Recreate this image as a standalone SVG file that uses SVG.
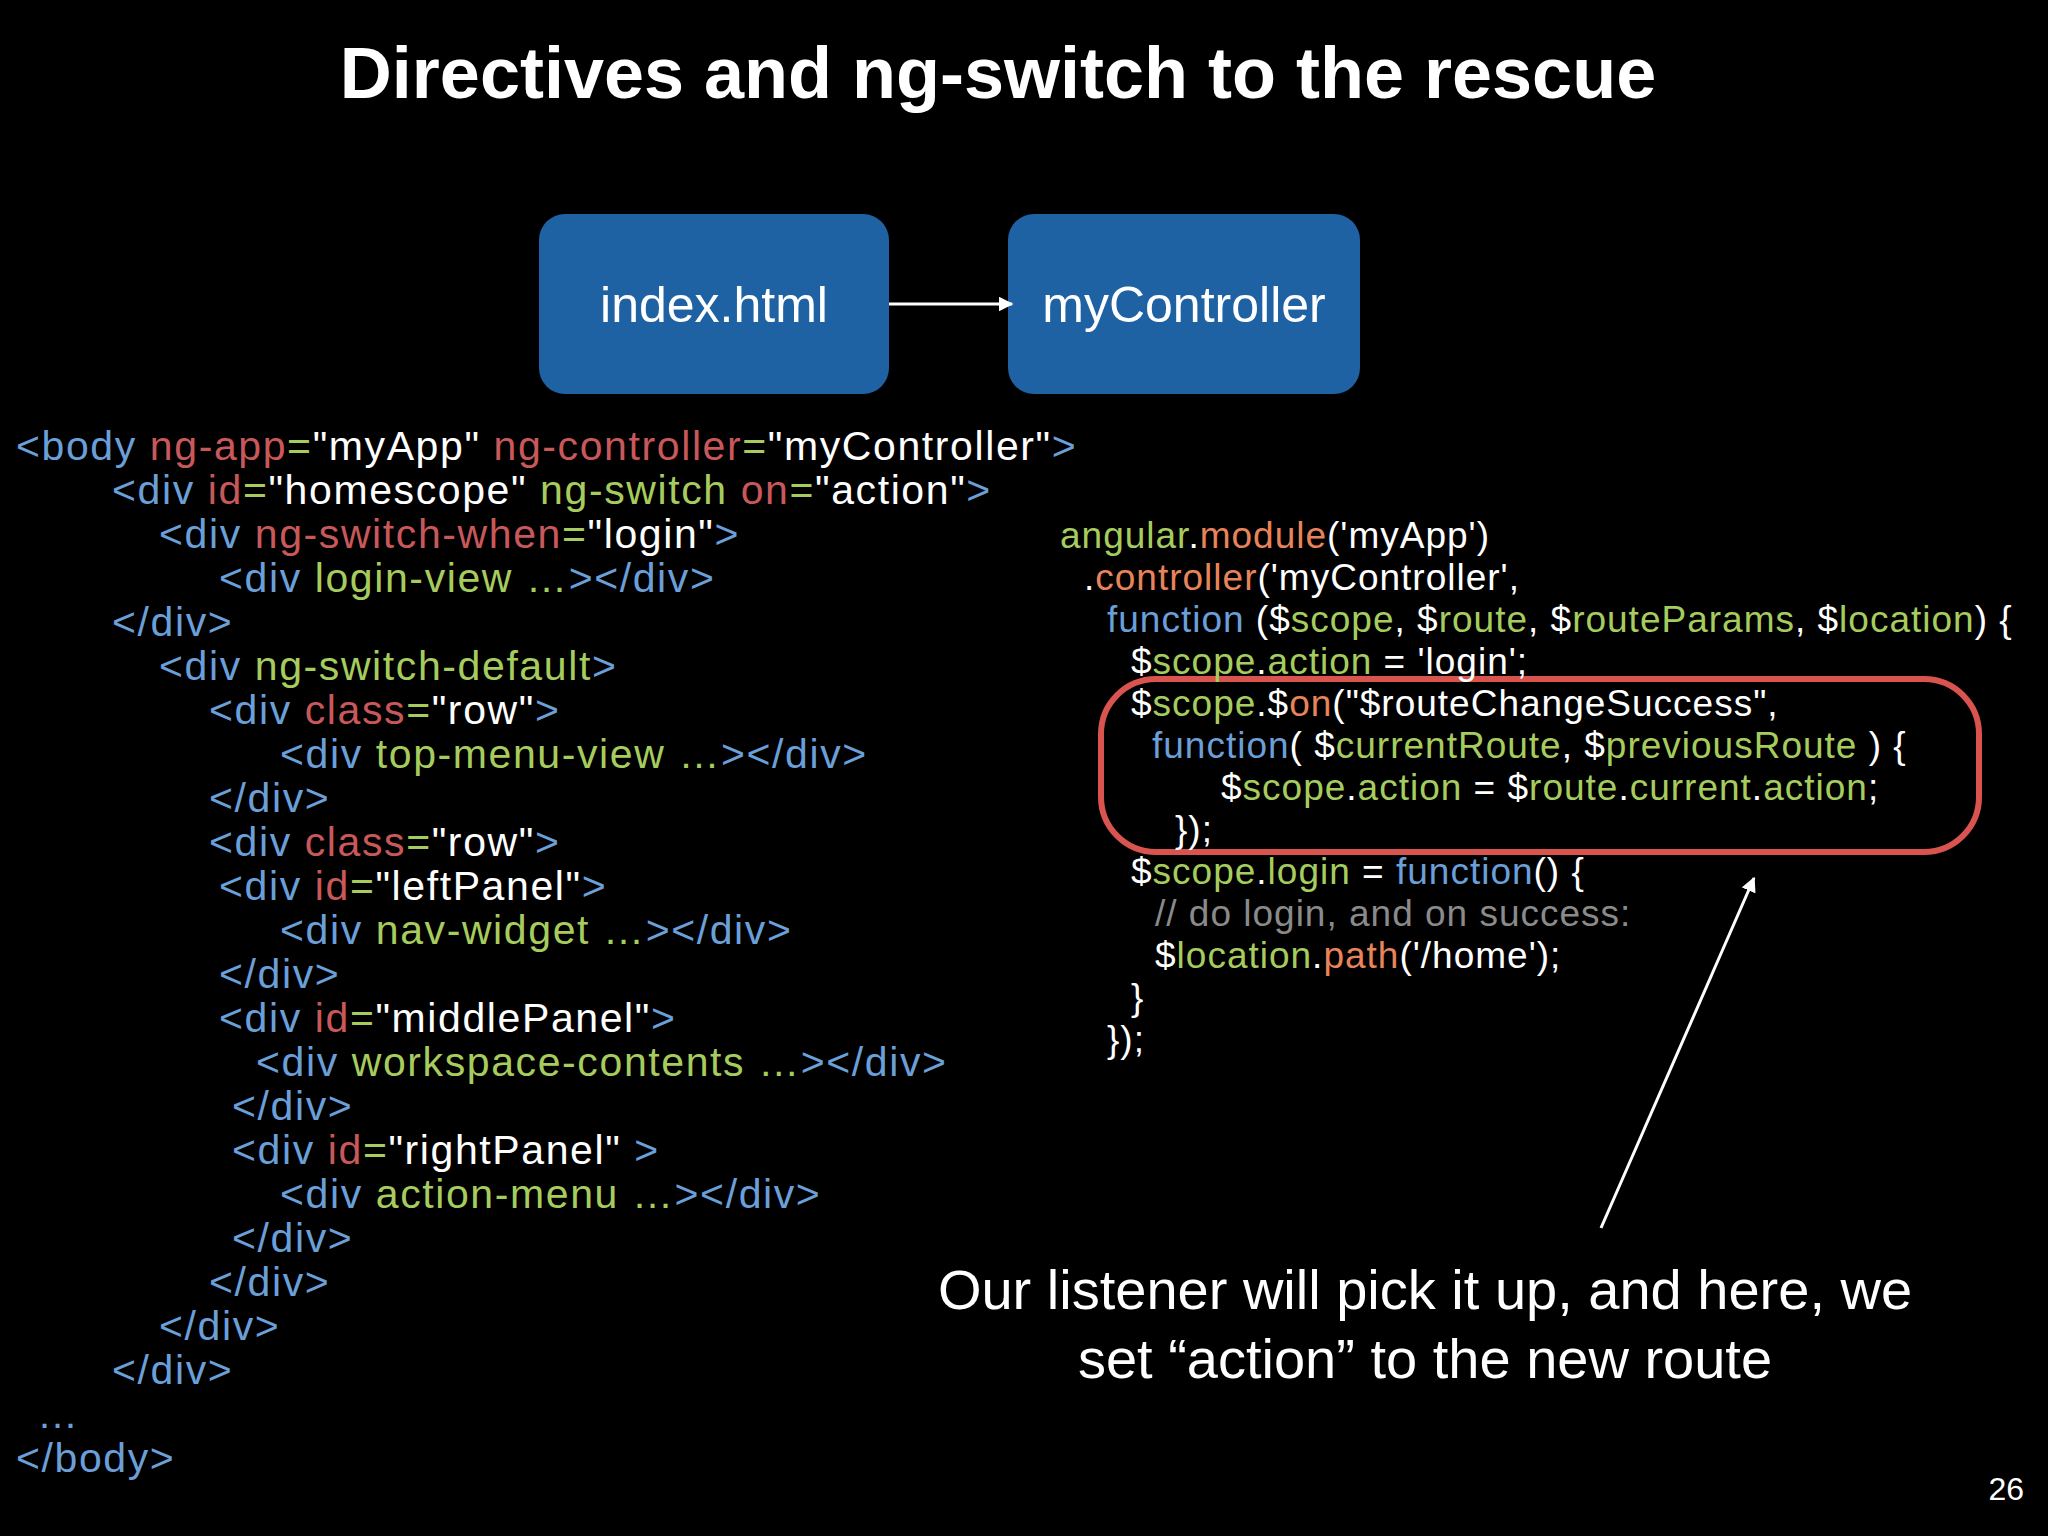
<svg xmlns="http://www.w3.org/2000/svg" width="2048" height="1536" viewBox="0 0 2048 1536">
<defs>
<style>
.t{fill:#6a9fd8}.a{fill:#c8585a}.g{fill:#a6cc5e}.w{fill:#ffffff}.o{fill:#e8845a}.c{fill:#8a8a8a}
.lc{font-family:"Liberation Sans",Arial,sans-serif;font-size:41px;letter-spacing:1.6px;fill:#fff;white-space:pre}
.rc{font-family:"Liberation Sans",Arial,sans-serif;font-size:37px;letter-spacing:1px;fill:#fff;white-space:pre}
.box{fill:#1f62a3}
.bt{font-family:"Liberation Sans",Arial,sans-serif;font-size:50px;fill:#fff;text-anchor:middle}
</style>
<marker id="ah" viewBox="0 0 10 10" refX="9" refY="5" markerWidth="5" markerHeight="5" orient="auto"><path d="M0,0L10,5L0,10z" fill="#fff"/></marker>
</defs>
<rect width="2048" height="1536" fill="#000"/>
<text x="998" y="98" text-anchor="middle" font-family="Liberation Sans,Arial,sans-serif" font-weight="bold" font-size="72" fill="#fff">Directives and ng-switch to the rescue</text>
<g id="index"><rect class="box" x="539" y="214" width="350" height="180" rx="26"/><text class="bt" x="714" y="322">index.html</text></g>
<g id="myController"><rect class="box" x="1008" y="214" width="352" height="180" rx="26"/><text class="bt" x="1184" y="322">myController</text></g>
<g id="connectors">
<line x1="889" y1="304" x2="1012" y2="304" stroke="#fff" stroke-width="3" marker-end="url(#ah)"/>
<line x1="1601" y1="1228" x2="1754" y2="878" stroke="#fff" stroke-width="3" marker-end="url(#ah)"/>
</g>
<rect x="1101" y="679" width="878" height="173" rx="55" fill="none" stroke="#d9534f" stroke-width="6"/>
<g id="html-code" class="lc">
<text x="16" y="460"><tspan class="t">&lt;body </tspan><tspan class="a">ng-app</tspan><tspan class="g">=</tspan>"myApp" <tspan class="a">ng-controller</tspan><tspan class="g">=</tspan>"myController"<tspan class="t">&gt;</tspan></text>
<text x="112" y="504"><tspan class="t">&lt;div </tspan><tspan class="a">id</tspan><tspan class="g">=</tspan>"homescope" <tspan class="g">ng-switch </tspan><tspan class="a">on</tspan><tspan class="g">=</tspan>"action"<tspan class="t">&gt;</tspan></text>
<text x="159" y="548"><tspan class="t">&lt;div </tspan><tspan class="a">ng-switch-when</tspan><tspan class="g">=</tspan>"login"<tspan class="t">&gt;</tspan></text>
<text x="219" y="592"><tspan class="t">&lt;div </tspan><tspan class="g">login-view …</tspan><tspan class="t">&gt;&lt;/div&gt;</tspan></text>
<text x="112" y="636" class="t">&lt;/div&gt;</text>
<text x="159" y="680"><tspan class="t">&lt;div </tspan><tspan class="g">ng-switch-default</tspan><tspan class="t">&gt;</tspan></text>
<text x="209" y="724"><tspan class="t">&lt;div </tspan><tspan class="a">class</tspan><tspan class="g">=</tspan>"row"<tspan class="t">&gt;</tspan></text>
<text x="280" y="768"><tspan class="t">&lt;div </tspan><tspan class="g">top-menu-view …</tspan><tspan class="t">&gt;&lt;/div&gt;</tspan></text>
<text x="209" y="812" class="t">&lt;/div&gt;</text>
<text x="209" y="856"><tspan class="t">&lt;div </tspan><tspan class="a">class</tspan><tspan class="g">=</tspan>"row"<tspan class="t">&gt;</tspan></text>
<text x="219" y="900"><tspan class="t">&lt;div </tspan><tspan class="a">id</tspan><tspan class="g">=</tspan>"leftPanel"<tspan class="t">&gt;</tspan></text>
<text x="280" y="944"><tspan class="t">&lt;div </tspan><tspan class="g">nav-widget …</tspan><tspan class="t">&gt;&lt;/div&gt;</tspan></text>
<text x="219" y="988" class="t">&lt;/div&gt;</text>
<text x="219" y="1032"><tspan class="t">&lt;div </tspan><tspan class="a">id</tspan><tspan class="g">=</tspan>"middlePanel"<tspan class="t">&gt;</tspan></text>
<text x="256" y="1076"><tspan class="t">&lt;div </tspan><tspan class="g">workspace-contents …</tspan><tspan class="t">&gt;&lt;/div&gt;</tspan></text>
<text x="232" y="1120" class="t">&lt;/div&gt;</text>
<text x="232" y="1164"><tspan class="t">&lt;div </tspan><tspan class="a">id</tspan><tspan class="g">=</tspan>"rightPanel" <tspan class="t">&gt;</tspan></text>
<text x="280" y="1208"><tspan class="t">&lt;div </tspan><tspan class="g">action-menu …</tspan><tspan class="t">&gt;&lt;/div&gt;</tspan></text>
<text x="232" y="1252" class="t">&lt;/div&gt;</text>
<text x="209" y="1296" class="t">&lt;/div&gt;</text>
<text x="159" y="1340" class="t">&lt;/div&gt;</text>
<text x="112" y="1384" class="t">&lt;/div&gt;</text>
<text x="37" y="1428" class="t">…</text>
<text x="16" y="1472" class="t">&lt;/body&gt;</text>
</g>
<g id="js-code" class="rc">
<text x="1060" y="548"><tspan class="g">angular</tspan>.<tspan class="o">module</tspan>('myApp')</text>
<text x="1084" y="590">.<tspan class="o">controller</tspan>('myController',</text>
<text x="1107" y="632"><tspan class="t">function</tspan> ($<tspan class="g">scope</tspan>,  $<tspan class="g">route</tspan>, $<tspan class="g">routeParams</tspan>, $<tspan class="g">location</tspan>) {</text>
<text x="1131" y="674">$<tspan class="g">scope</tspan>.<tspan class="g">action</tspan> = 'login';</text>
<text x="1131" y="716">$<tspan class="g">scope</tspan>.$<tspan class="o">on</tspan>("$routeChangeSuccess",</text>
<text x="1152" y="758"><tspan class="t">function</tspan>( $<tspan class="g">currentRoute</tspan>, $<tspan class="g">previousRoute</tspan> ) {</text>
<text x="1221" y="800">$<tspan class="g">scope</tspan>.<tspan class="g">action</tspan> = $<tspan class="g">route</tspan>.<tspan class="g">current</tspan>.<tspan class="g">action</tspan>;</text>
<text x="1175" y="842">});</text>
<text x="1131" y="884">$<tspan class="g">scope</tspan>.<tspan class="g">login</tspan> = <tspan class="t">function</tspan>() {</text>
<text x="1155" y="926" class="c">// do login, and on success:</text>
<text x="1155" y="968">$<tspan class="g">location</tspan>.<tspan class="o">path</tspan>('/home');</text>
<text x="1131" y="1010">}</text>
<text x="1107" y="1052">});</text>
</g>
<g id="caption" font-family="Liberation Sans,Arial,sans-serif" font-size="56" fill="#fff" text-anchor="middle">
<text x="1425" y="1309">Our listener will pick it up, and here, we</text>
<text x="1425" y="1378">set “action” to the new route</text>
</g>
<text x="2024" y="1500" text-anchor="end" font-family="Liberation Sans,Arial,sans-serif" font-size="32" fill="#fff">26</text>
</svg>
